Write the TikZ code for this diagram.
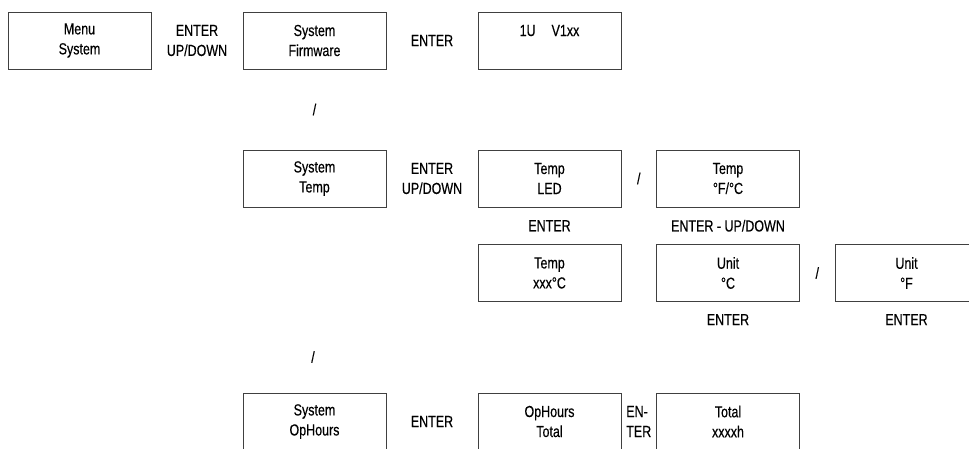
\documentclass[tikz,border=0pt]{standalone}
\usepackage{fontspec}
\setmainfont{Liberation Sans}[FakeStretch=0.78,FakeBold=0.4]
\usetikzlibrary{positioning}
\tikzset{
  menubox/.style={draw=black!75, line width=0.9pt, minimum width=143pt, minimum height=57pt,
    inner sep=0pt, align=center, font=\fontsize{16}{20}\selectfont,
    execute at begin node=\rule{0pt}{19pt}},
  keylabel/.style={inner sep=0pt, align=center, font=\fontsize{16}{20}\selectfont},
  twolines/.style={execute at begin node=\rule{0pt}{17pt}}
}

\begin{document}
\begin{tikzpicture}[x=1pt,y=-1pt]
	\clip (0,0) rectangle (969,448);
	% boxes
	\node[menubox] (menu) at (79.5,40.5) {Menu\\System};
	\node[menubox] (firmware) at (314.5,40.5) {System\\Firmware};
	\node[menubox] (version) at (549.5,40.5) {1U\hspace{1em}V1xx\\\mbox{}};
	\node[menubox] (temp) at (314.5,178.5) {System\\Temp};
	\node[menubox] (templed) at (549.5,178.5) {Temp\\LED};
	\node[menubox] (tempunit) at (728,178.5) {Temp\\°F/°C};
	\node[menubox] (tempval) at (549.5,273) {Temp\\xxx°C};
	\node[menubox] (unitc) at (728,273) {Unit\\°C};
	\node[menubox] (unitf) at (906.5,273) {Unit\\°F};
	\node[menubox] (ophours) at (314.5,421.5) {System\\OpHours};
	\node[menubox] (optotal) at (549.5,421.5) {OpHours\\Total};
	\node[menubox] (total) at (728,421.5) {Total\\xxxxh};
	% keys
	\path (menu) -- node[keylabel, twolines] (k1) {ENTER\\UP/DOWN} (firmware);
	\path (firmware) -- node[keylabel] (k2) {ENTER} (version);
	\path (firmware) -- node[keylabel] (k3) {/} (temp);
	\path (temp) -- node[keylabel, twolines] (k4) {ENTER\\UP/DOWN} (templed);
	\path (templed) -- node[keylabel] (k5) {/} (tempunit);
	\path (templed) -- node[keylabel] (k6) {ENTER} (tempval);
	\path (tempunit) -- node[keylabel] (k7) {ENTER - UP/DOWN} (unitc);
	\path (unitc) -- node[keylabel] (k8) {/} (unitf);
	\node[keylabel, below=12pt of unitc] (k9) {ENTER};
	\node[keylabel, below=12pt of unitf] (k10) {ENTER};
	\node[keylabel] (k11) at (313,357) {/};
	\path (ophours) -- node[keylabel] (k12) {ENTER} (optotal);
	\path (optotal) -- node[keylabel, twolines, align=left] (k13) {EN-\\TER} (total);
\end{tikzpicture}
\end{document}
